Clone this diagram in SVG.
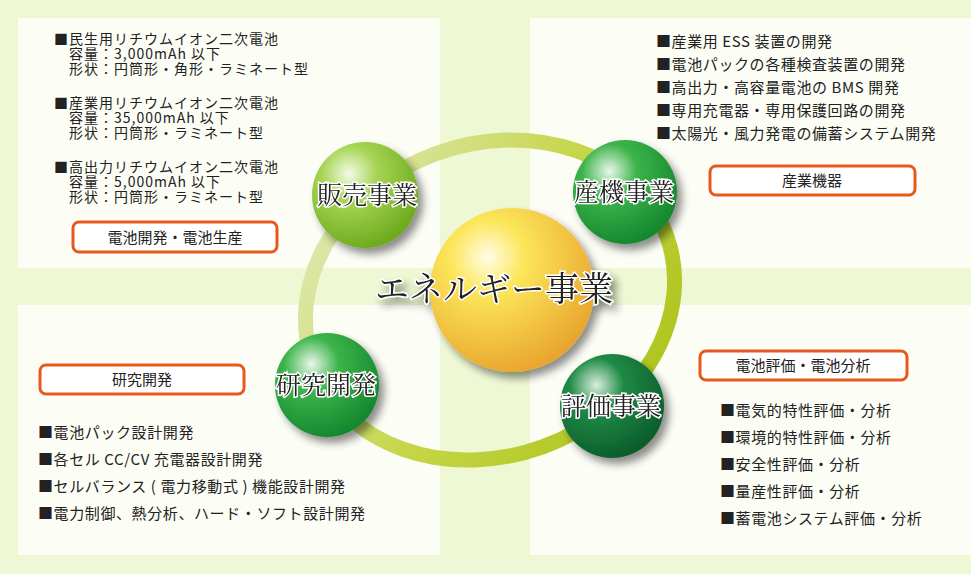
<svg xmlns="http://www.w3.org/2000/svg" width="971" height="574" viewBox="0 0 971 574">
<defs>
<style>
.t{font-family:"Noto Sans CJK JP","Noto Sans",sans-serif;font-size:15px;fill:#222;letter-spacing:0.6px}
.s{font-size:14px;letter-spacing:1px}
.lbl{font-family:"Noto Sans CJK JP",sans-serif;font-size:15px;fill:#222;text-anchor:middle}
.box{fill:#fff;stroke:#e8581c;stroke-width:3}
.sp{font-family:"Noto Serif CJK JP","Noto Sans CJK JP",serif;font-size:25px;fill:#222;stroke:#fff;stroke-width:3;paint-order:stroke;text-anchor:middle}
.panel{fill:#fcfef6}
</style>
<radialGradient id="gL" cx="0.35" cy="0.3" r="0.75"><stop offset="0" stop-color="#f4fbe6"/><stop offset="0.35" stop-color="#a6d454"/><stop offset="1" stop-color="#6aa81a"/></radialGradient>
<radialGradient id="gM" cx="0.35" cy="0.3" r="0.75"><stop offset="0" stop-color="#eaf7ea"/><stop offset="0.35" stop-color="#3cb44a"/><stop offset="1" stop-color="#13852e"/></radialGradient>
<radialGradient id="gD" cx="0.35" cy="0.3" r="0.75"><stop offset="0" stop-color="#d8eedc"/><stop offset="0.35" stop-color="#1f8a45"/><stop offset="1" stop-color="#0a5a2a"/></radialGradient>
<radialGradient id="gY" cx="0.35" cy="0.3" r="0.75"><stop offset="0" stop-color="#fffde8"/><stop offset="0.3" stop-color="#fce65a"/><stop offset="1" stop-color="#e8a32c"/></radialGradient>
<linearGradient id="ring" x1="0" y1="0" x2="1" y2="1"><stop offset="0" stop-color="#e4ecc8"/><stop offset="0.5" stop-color="#c6d64a"/><stop offset="1" stop-color="#a8c010"/></linearGradient>
<filter id="sh" x="-30%" y="-30%" width="160%" height="160%"><feGaussianBlur in="SourceAlpha" stdDeviation="4"/><feOffset dx="5" dy="6"/><feComponentTransfer><feFuncA type="linear" slope="0.45"/></feComponentTransfer><feMerge><feMergeNode/><feMergeNode in="SourceGraphic"/></feMerge></filter>
</defs>
<rect width="971" height="574" fill="#eef8d4"/>
<rect class="panel" x="18" y="18" width="422" height="250"/>
<rect class="panel" x="530" y="18" width="441" height="250"/>
<rect class="panel" x="18" y="305" width="422" height="250"/>
<rect class="panel" x="530" y="305" width="441" height="250"/>
<g id="connectors">
<ellipse cx="490" cy="300" rx="188" ry="156" fill="none" stroke="url(#ring)" stroke-width="15" transform="rotate(-20 490 300)"/>
</g>
<g id="sales" filter="url(#sh)"><circle cx="365" cy="195" r="53" fill="url(#gL)"/><text class="sp" x="367" y="204">販売事業</text></g>
<g id="industry" filter="url(#sh)"><circle cx="625" cy="192" r="52" fill="url(#gM)"/><text class="sp" x="624" y="201">産機事業</text></g>
<g id="rnd" filter="url(#sh)"><circle cx="327" cy="385" r="52" fill="url(#gM)"/><text class="sp" x="326" y="394">研究開発</text></g>
<g id="eval" filter="url(#sh)"><circle cx="612" cy="406" r="52" fill="url(#gD)"/><text class="sp" x="611" y="415">評価事業</text></g>
<g id="energy" filter="url(#sh)"><circle cx="512" cy="290" r="82" fill="url(#gY)"/><text class="sp" x="494" y="301" style="font-size:34px">エネルギー事業</text></g>
<g id="tl">
<text class="t s" x="54" y="44">■民生用リチウムイオン二次電池</text>
<text class="t s" x="69" y="59">容量：3,000mAh 以下</text>
<text class="t s" x="69" y="74">形状：円筒形・角形・ラミネート型</text>
<text class="t s" x="54" y="108">■産業用リチウムイオン二次電池</text>
<text class="t s" x="69" y="123">容量：35,000mAh 以下</text>
<text class="t s" x="69" y="138">形状：円筒形・ラミネート型</text>
<text class="t s" x="54" y="172">■高出力リチウムイオン二次電池</text>
<text class="t s" x="69" y="187">容量：5,000mAh 以下</text>
<text class="t s" x="69" y="202">形状：円筒形・ラミネート型</text>
<rect class="box" x="73" y="222" width="204" height="30" rx="6"/>
<text class="lbl" x="175" y="243">電池開発・電池生産</text>
</g>
<g id="tr">
<text class="t" x="656" y="47">■産業用 ESS 装置の開発</text>
<text class="t" x="656" y="70">■電池パックの各種検査装置の開発</text>
<text class="t" x="656" y="93">■高出力・高容量電池の BMS 開発</text>
<text class="t" x="656" y="116">■専用充電器・専用保護回路の開発</text>
<text class="t" x="656" y="139">■太陽光・風力発電の備蓄システム開発</text>
<rect class="box" x="710" y="166" width="205" height="29" rx="6"/>
<text class="lbl" x="812" y="186">産業機器</text>
</g>
<g id="bl">
<rect class="box" x="40" y="365" width="204" height="29" rx="6"/>
<text class="lbl" x="142" y="385">研究開発</text>
<text class="t" x="38" y="438">■電池パック設計開発</text>
<text class="t" x="38" y="465">■各セル CC/CV 充電器設計開発</text>
<text class="t" x="38" y="492">■セルバランス ( 電力移動式 ) 機能設計開発</text>
<text class="t" x="38" y="519">■電力制御、熱分析、ハード・ソフト設計開発</text>
</g>
<g id="br">
<rect class="box" x="700" y="351" width="207" height="29" rx="6"/>
<text class="lbl" x="803" y="371">電池評価・電池分析</text>
<text class="t" x="720" y="416">■電気的特性評価・分析</text>
<text class="t" x="720" y="443">■環境的特性評価・分析</text>
<text class="t" x="720" y="470">■安全性評価・分析</text>
<text class="t" x="720" y="497">■量産性評価・分析</text>
<text class="t" x="720" y="524">■蓄電池システム評価・分析</text>
</g>
</svg>
